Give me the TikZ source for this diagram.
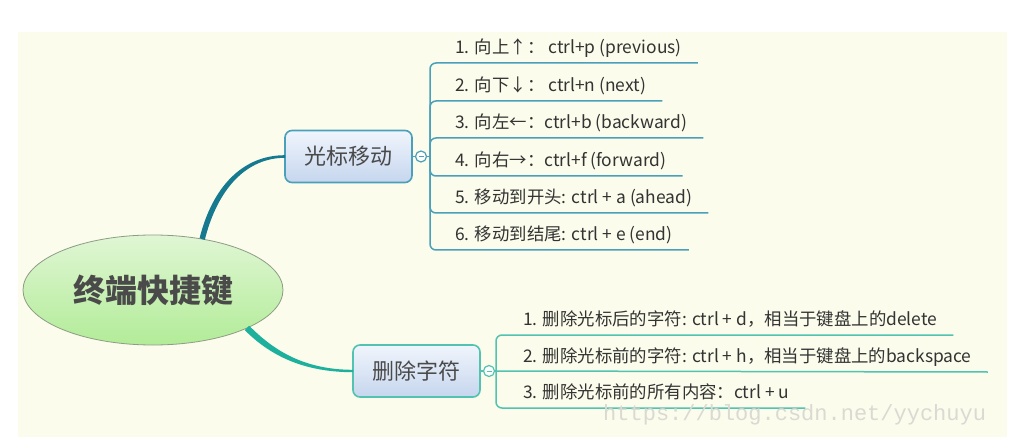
\documentclass[tikz,border=0pt]{standalone}
\usepackage{fontspec}
\setmainfont{Noto Sans CJK SC}
\setmonofont{Liberation Mono}
\usetikzlibrary{positioning,shapes.geometric,calc}
\definecolor{paper}{HTML}{FBFCEB}
\definecolor{roottop}{HTML}{E0F6D4}
\definecolor{rootbot}{HTML}{B2EC98}
\definecolor{rootline}{HTML}{8E9C86}
\definecolor{ink}{HTML}{333333}
\definecolor{ink2}{HTML}{4A4A4A}
\definecolor{boxtop}{HTML}{F0F5FC}
\definecolor{boxbot}{HTML}{C6D6EE}
\definecolor{teal}{HTML}{4A9FBA}
\definecolor{tealdeep}{HTML}{15798F}
\definecolor{aqua}{HTML}{52C2B1}
\definecolor{aquadeep}{HTML}{1DB09C}
\definecolor{mark}{HTML}{DADAD4}
\tikzset{
  root/.style={ellipse, draw=rootline, line width=0.8pt, top color=roottop, bottom color=rootbot,
    minimum width=260pt, minimum height=110pt, inner sep=0pt, outer sep=0pt,
    text=ink2, font=\fontsize{32pt}{36pt}\selectfont\bfseries},
  topic/.style={draw=#1, line width=1.6pt, rounded corners=7pt, top color=boxtop, bottom color=boxbot,
    minimum width=127pt, minimum height=52pt, inner sep=0pt, outer sep=0pt,
    text=ink2, font=\fontsize{22pt}{26pt}\selectfont},
  fold/.style={circle, draw=#1, line width=1.2pt, fill=white, minimum size=11pt, inner sep=0pt, outer sep=0pt,
    path picture={\draw[#1, line width=1pt] ([xshift=-2.5pt]path picture bounding box.center)
      -- ([xshift=2.5pt]path picture bounding box.center);}},
  item/.style={anchor=south west, inner xsep=16pt, inner ysep=5.5pt, text height=13pt, text depth=4pt,
    text=ink, font=\fontsize{17.4pt}{20pt}\selectfont},
  uline/.style={draw=#1, line width=1.5pt, rounded corners=6pt},
}
\begin{document}
\begin{tikzpicture}[x=1pt, y=-1pt]
    \fill[white] (0,0) rectangle (1011,446);
    \fill[paper] (18,32) rectangle (1007,437);
    \node[root] (root) at (153,290) {终端快捷键};
    \node[topic=teal] (b1) at (348.5,156.5) {光标移动};
    \node[topic=aqua] (b2) at (416.5,371) {删除字符};
    % 中心到两个分支的渐细连线
    \fill[tealdeep] ($(root.46)+(-2.6,-0.8)$) .. controls +(13,-52) and +(-42,0) .. ($(b1.west)+(0,-1.3)$)
      -- ($(b1.west)+(0,1.3)$) .. controls +(-38,0) and +(13,-52) .. ($(root.46)+(2.6,0.8)$) -- cycle;
    \fill[aquadeep] ($(root.-22)+(2.2,-2.2)$) .. controls +(22,22) and +(-52,0) .. ($(b2.west)+(0,-1.2)$)
      -- ($(b2.west)+(0,1.2)$) .. controls +(-54,0) and +(22,22) .. ($(root.-22)+(-2.2,2.2)$) -- cycle;
    \node[fold=teal, right=3.5pt of b1] (c1) {};
    \node[fold=aqua, right=3.5pt of b2] (c2) {};
    \coordinate (j1) at ($(c1.east)+(3.5,0)$);
    \coordinate (j2) at ($(c2.east)+(1.5,0)$);
    \draw[teal, line width=1.5pt] (b1.east) -- (c1.west) (c1.east) -- (j1);
    \draw[aqua, line width=1.5pt] (b2.east) -- (c2.west) (c2.east) -- (j2);

    \node[item] (m1) at (439,63) {1. 向上↑：\ ctrl+p (previous)};
    \node[item] (m2) at (439,101) {2. 向下↓：\ ctrl+n (next)};
    \node[item] (m3) at (439,138) {3. 向左←：ctrl+b (backward)};
    \node[item] (m4) at (439,176) {4. 向右→：ctrl+f (forward)};
    \node[item] (m5) at (439,213) {5. 移动到开头: ctrl + a (ahead)};
    \node[item] (m6) at (439,250) {6. 移动到结尾: ctrl + e (end)};
    \draw[uline=teal] (j1) |- (m1.south east);
    \draw[uline=teal] (j1) |- (m2.south east);
    \draw[uline=teal] (j1) |- (m3.south east);
    \draw[uline=teal] (j1) |- (m4.south east);
    \draw[uline=teal] (j1) |- (m5.south east);
    \draw[uline=teal] (j1) |- (m6.south east);

    \node[item] (d1) at (507,335) {1. 删除光标后的字符: ctrl + d，相当于键盘上的delete};
    \node[item] (d2) at (507,372) {2. 删除光标前的字符: ctrl + h，相当于键盘上的backspace};
    \node[item] (d3) at (507,408) {3. 删除光标前的所有内容：ctrl + u};
    \draw[uline=aqua] (j2) |- (d1.south east);
    \draw[uline=aqua] (j2) -- (d2.south east);
    \draw[uline=aqua] (j2) |- (d3.south east);

    \node[font=\ttfamily\fontsize{22pt}{24pt}\selectfont, text=mark, anchor=base west, inner sep=0pt]
      (wm) at (603,420) {https://blog.csdn.net/yychuyu};
\end{tikzpicture}
\end{document}
